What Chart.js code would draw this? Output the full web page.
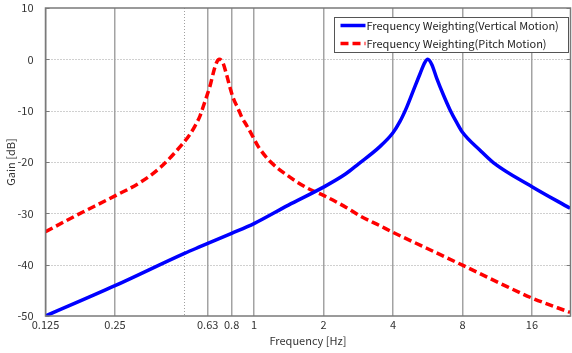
<!DOCTYPE html>
<html>
<head>
<meta charset="utf-8">
<script src="https://cdn.jsdelivr.net/npm/chart.js@4.4.1/dist/chart.umd.min.js"></script>
<style>
  html, body { margin: 0; padding: 0; background: #fff; }
  #wrap { width: 572px; height: 353px; }
</style>
</head>
<body>
<div id="wrap"><canvas id="chartLine"></canvas></div>
<script>
// values
const verticalFreq = [0.125, 0.25, 0.5, 0.584, 0.8, 1, 1.41, 2, 2.5, 2.83, 3.51, 4, 4.29, 4.59, 4.9, 5.23, 5.5, 5.66,
  5.89, 6.19, 6.61, 7.06, 7.55, 8, 9.53, 10.88, 16, 23.4];
const verticalGain = [-50, -44.1, -37.8, -36.5, -33.9, -32.0, -28.4, -24.9, -22.3, -20.4, -17.0, -14.3, -12.1, -9.3, -6.1, -2.9, -0.6, 0,
  -1.0, -3.7, -6.9, -9.8, -12.3, -14.2, -17.7, -20.1, -24.8, -29.0];

const pitchFreq = [0.125, 0.165, 0.25, 0.321, 0.392, 0.494, 0.528, 0.555, 0.584, 0.603, 0.624, 0.645, 0.666, 0.689, 0.707,
  0.732, 0.762, 0.787, 0.814, 0.855, 0.884, 0.93, 0.977, 1.044, 1.17, 1.385, 1.69, 2, 2.52, 2.88, 3.51, 4, 5.6, 8, 11.6, 16, 23.4];
const pitchGain = [-33.6, -30.7, -26.6, -24.0, -21.1, -16.3, -14.6, -13.0, -11.0, -9.2, -7.2, -5.2, -2.7, -0.6, 0,
  -0.6, -3.1, -5.5, -7.6, -9.7, -11.2, -12.9, -14.6, -17.0, -19.8, -22.5, -25.0, -26.5, -28.9, -30.5, -32.4, -33.7, -36.8, -40.1, -43.6, -46.5, -49.3];

const freqTicks = [0.125, 0.25, 0.5, 0.63, 0.8, 1, 2, 4, 8, 16];
const freqTickLabels = ["0.125", "0.25", "", "0.63", "0.8", "1", "2", "4", "8", "16"];
const gainTicks = [10, 0, -10, -20, -30, -40, -50];

const seriesNames = ["Frequency Weighting(Vertical Motion)", "Frequency Weighting(Pitch Motion)"];

const FONT = "'Noto Sans CJK JP', 'DejaVu Sans', sans-serif";

// dotted grid, frame and in-plot legend
const framePlugin = {
  id: "frame",
  beforeDatasetsDraw(chart) {
    const { ctx, chartArea: a, scales } = chart;
    ctx.save();
    ctx.strokeStyle = "#a0a0a0";
    ctx.lineWidth = 1;
    ctx.setLineDash([1, 2]);
    gainTicks.forEach(v => {
      if (v === 10 || v === -50) return;
      const y = Math.round(scales.y.getPixelForValue(v)) + 0.5;
      ctx.beginPath();
      ctx.moveTo(a.left, y);
      ctx.lineTo(a.right, y);
      ctx.stroke();
    });
    const xh = Math.round(scales.x.getPixelForValue(0.5)) + 0.5;
    ctx.beginPath();
    ctx.moveTo(xh, a.top);
    ctx.lineTo(xh, a.bottom);
    ctx.stroke();
    ctx.restore();
  },
  afterDraw(chart) {
    const { ctx, chartArea: a, scales } = chart;
    ctx.save();
    ctx.strokeStyle = "#7a7a7a";
    ctx.lineWidth = 1.5;
    ctx.strokeRect(a.left, a.top, a.right - a.left, a.bottom - a.top);
    ctx.lineWidth = 1;
    gainTicks.forEach(v => {
      const y = Math.round(scales.y.getPixelForValue(v)) + 0.5;
      ctx.beginPath();
      ctx.moveTo(a.left, y); ctx.lineTo(a.left + 4, y);
      ctx.moveTo(a.right, y); ctx.lineTo(a.right - 4, y);
      ctx.stroke();
    });

    // legend box
    const lx = 334.5, ly = 17.5, lw = 234, lh = 35;
    ctx.fillStyle = "#fff";
    ctx.fillRect(lx, ly, lw, lh);
    ctx.strokeStyle = "#555";
    ctx.lineWidth = 1;
    ctx.strokeRect(lx, ly, lw, lh);
    const rows = [ly + 8, ly + 26];
    chart.data.datasets.forEach((ds, i) => {
      ctx.strokeStyle = ds.borderColor;
      ctx.lineWidth = 3.5;
      ctx.setLineDash(ds.borderDash || []);
      ctx.beginPath();
      ctx.moveTo(lx + 6, rows[i]);
      ctx.lineTo(lx + 31, rows[i]);
      ctx.stroke();
      ctx.setLineDash([]);
      ctx.fillStyle = "#222";
      ctx.font = "11px " + FONT;
      ctx.textBaseline = "middle";
      ctx.fillText(ds.label, lx + 32, rows[i] + 0.5);
    });
    ctx.restore();
  }
};

const dataLineChart = {
  datasets: [
    {
      label: seriesNames[0],
      data: verticalFreq.map((f, i) => ({ x: f, y: verticalGain[i] })),
      borderColor: "#0000ff",
      borderWidth: 3.5,
      pointRadius: 0,
      cubicInterpolationMode: "monotone",
      fill: false,
    },
    {
      label: seriesNames[1],
      data: pitchFreq.map((f, i) => ({ x: f, y: pitchGain[i] })),
      borderColor: "#ff0000",
      borderWidth: 3.5,
      borderDash: [8, 4],
      pointRadius: 0,
      cubicInterpolationMode: "monotone",
      fill: false,
    },
  ],
};

const configLineChart = {
  type: "line",
  data: dataLineChart,
  options: {
    responsive: false,
    animation: false,
    layout: { padding: { top: 8, right: 1.5, left: 0, bottom: 0 } },
    plugins: { legend: { display: false }, tooltip: { enabled: false } },
    scales: {
      x: {
        type: "logarithmic",
        min: 0.125,
        max: 23.5,
        afterBuildTicks: scale => { scale.ticks = freqTicks.map(v => ({ value: v })); },
        afterFit: scale => { scale.height = 37; scale.paddingLeft = 0; scale.paddingRight = 0; },
        ticks: {
          autoSkip: false,
          maxRotation: 0,
          padding: 2,
          color: "#333",
          font: { family: FONT, size: 11 },
          callback: (value, index) => freqTickLabels[index],
        },
        grid: {
          drawTicks: false,
          color: ctx => (ctx.tick && ctx.tick.value === 0.5) ? "rgba(0,0,0,0)" : "#a3a3a3",
          lineWidth: 1.5,
        },
        border: { display: false },
        title: {
          display: true,
          text: "Frequency [Hz]",
          color: "#333",
          font: { family: FONT, size: 11 },
          padding: { top: 0, bottom: 6 },
        },
      },
      y: {
        min: -50,
        max: 10,
        afterBuildTicks: scale => { scale.ticks = gainTicks.map(v => ({ value: v })); },
        afterFit: scale => { scale.width = 45.5; scale.paddingTop = 0; scale.paddingBottom = 0; },
        ticks: {
          padding: 4,
          color: "#333",
          font: { family: FONT, size: 11 },
        },
        grid: { display: false },
        border: { display: false },
        title: {
          display: true,
          text: "Gain [dB]",
          color: "#333",
          font: { family: FONT, size: 11 },
          padding: { top: 4, bottom: 0 },
        },
      },
    },
  },
  plugins: [framePlugin],
};

const canvas = document.getElementById("chartLine");
canvas.width = 572;
canvas.height = 353;
const chartLine = new Chart(canvas, configLineChart);
</script>
</body>
</html>
